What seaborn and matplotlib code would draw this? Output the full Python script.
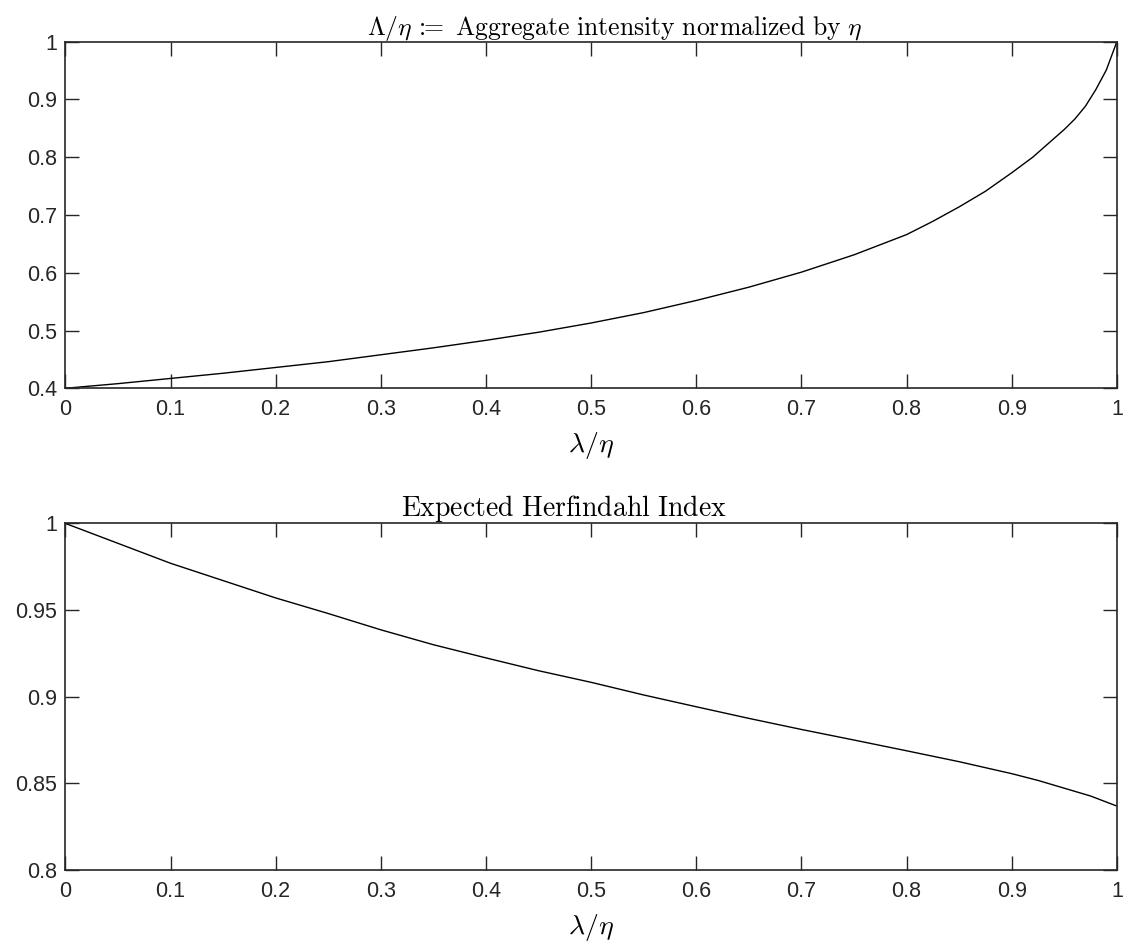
import matplotlib
matplotlib.use("Agg")
import matplotlib.pyplot as plt
import seaborn as sns
import pandas as pd

# ---- data ----
x_top = [0.0, 0.05, 0.1, 0.15, 0.2, 0.25, 0.3, 0.35, 0.4, 0.45, 0.5, 0.55, 0.6, 0.65,
         0.7, 0.75, 0.8, 0.825, 0.85, 0.875, 0.9, 0.92, 0.94, 0.95, 0.96, 0.97, 0.98, 0.99, 1.0]
y_top = [0.400, 0.408, 0.417, 0.426, 0.436, 0.446, 0.458, 0.470, 0.483, 0.497, 0.513, 0.531, 0.552, 0.575,
         0.601, 0.631, 0.666, 0.689, 0.714, 0.741, 0.773, 0.800, 0.832, 0.848, 0.866, 0.888, 0.917, 0.951, 1.0]

x_bot = [0.0, 0.05, 0.1, 0.15, 0.2, 0.25, 0.3, 0.35, 0.4, 0.45, 0.5, 0.55, 0.6, 0.65,
         0.7, 0.75, 0.8, 0.85, 0.9, 0.925, 0.95, 0.975, 1.0]
y_bot = [1.0, 0.9885, 0.977, 0.967, 0.957, 0.948, 0.9386, 0.930, 0.9224, 0.915, 0.9083, 0.901, 0.8942, 0.8875,
         0.8811, 0.875, 0.8688, 0.8625, 0.8556, 0.8517, 0.8472, 0.8427, 0.8369]

x_ticks = [0, 0.1, 0.2, 0.3, 0.4, 0.5, 0.6, 0.7, 0.8, 0.9, 1]
x_ticklabels = ["0", "0.1", "0.2", "0.3", "0.4", "0.5", "0.6", "0.7", "0.8", "0.9", "1"]
y_ticks_top = [0.4, 0.5, 0.6, 0.7, 0.8, 0.9, 1.0]
y_ticklabels_top = ["0.4", "0.5", "0.6", "0.7", "0.8", "0.9", "1"]
y_ticks_bot = [0.8, 0.85, 0.9, 0.95, 1.0]
y_ticklabels_bot = ["0.8", "0.85", "0.9", "0.95", "1"]

title_top = r"$\Lambda/\eta\,:\!\!\!=\ \mathrm{Aggregate\ intensity\ normalized\ by}\ \eta$"
title_bot = r"$\mathrm{Expected\ Herfindahl\ Index}$"
xlabel = r"$\lambda/\eta$"

sns.set_style("ticks")
plt.rcParams["font.family"] = ["Liberation Sans", "DejaVu Sans"]
plt.rcParams["mathtext.fontset"] = "cm"

fig = plt.figure(figsize=(11.27, 9.47), dpi=100)
ax1 = fig.add_axes([0.058, 0.590, 0.933, 0.366])
ax2 = fig.add_axes([0.058, 0.0813, 0.933, 0.366])

df_top = pd.DataFrame({"x": x_top, "y": y_top})
df_bot = pd.DataFrame({"x": x_bot, "y": y_bot})

sns.lineplot(data=df_top, x="x", y="y", ax=ax1, color="black", linewidth=1.0)
sns.lineplot(data=df_bot, x="x", y="y", ax=ax2, color="black", linewidth=1.0)

tick_col = "#262626"
for ax, yt, ytl, ylim, title, tx, tfs in [
    (ax1, y_ticks_top, y_ticklabels_top, (0.4, 1.0), title_top, 0.522, 18.5),
    (ax2, y_ticks_bot, y_ticklabels_bot, (0.8, 1.0), title_bot, 0.474, 20),
]:
    ax.set_xlim(0, 1)
    ax.set_ylim(*ylim)
    ax.set_xticks(x_ticks)
    ax.set_xticklabels(x_ticklabels)
    ax.set_yticks(yt)
    ax.set_yticklabels(ytl)
    ax.tick_params(direction="in", length=10, width=1.0, colors=tick_col,
                   labelsize=15.5, top=True, right=True, pad=6)
    ax.tick_params(axis="x", pad=8)
    for s in ax.spines.values():
        s.set_visible(True)
        s.set_color(tick_col)
        s.set_linewidth(1.2)
    t = ax.set_title(title, fontsize=tfs, pad=5, color="black")
    t.set_x(tx)
    ax.set_xlabel(xlabel, fontsize=20, labelpad=7, color="black")
    ax.set_ylabel("")

fig.savefig("out.png", dpi=100, facecolor="white")
